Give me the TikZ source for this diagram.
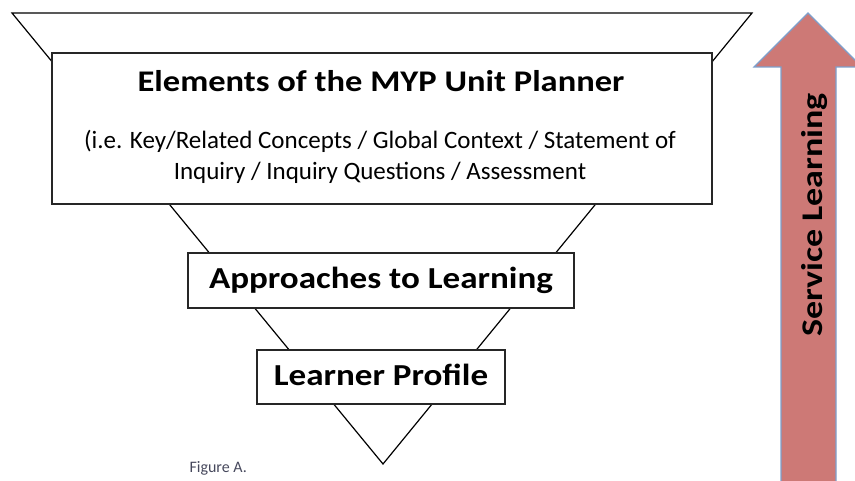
\documentclass[tikz,border=0pt]{standalone}
\usepackage{fontspec}
\setmainfont{Carlito}
\newfontfamily\headfont[FakeStretch=1.15]{Carlito}
\newfontfamily\arrowfont[FakeStretch=1.2]{Carlito}
\definecolor{servicefill}{RGB}{205,121,118}
\definecolor{serviceedge}{RGB}{125,160,205}
\definecolor{captiongray}{RGB}{70,72,92}
\begin{document}
\begin{tikzpicture}[x=1pt,y=-1pt,
    box/.style={draw=black!85,line width=1.2pt,fill=white,inner sep=0pt},
    heading/.style={font=\headfont\bfseries\fontsize{30.5}{36}\selectfont,text height=22pt,text depth=5pt}]
  \useasboundingbox (0,0) rectangle (855,481);
  % funnel
  \draw[line width=1.2pt] (12,13) coordinate (tl) -- (752,13) coordinate (tr)
    -- (383,464) coordinate (apex) -- cycle;
  \node[box,minimum width=660pt,minimum height=151pt] (planner) at (382,128.5) {};
  \node[heading,font=\headfont\bfseries\fontsize{30}{36}\selectfont,anchor=base] (title) at (381,92) {Elements of the MYP Unit Planner};
  \node[font=\fontsize{25}{31}\selectfont,align=center] (detail) at (380,157)
    {(i.e. Key/Related Concepts / Global Context / Statement of\\Inquiry / Inquiry Questions / Assessment};
  \node[box,heading,minimum width=386pt,minimum height=55pt] (atl) at (381,280.5) {Approaches to Learning};
  \node[box,heading,minimum width=248pt,minimum height=54pt] (profile) at (381,377) {Learner Profile};
  \node[font=\fontsize{16}{19}\selectfont,text=captiongray,anchor=base west] (figure) at (186,472) {Figure A.};
  % service arrow
  \draw[fill=servicefill,draw=serviceedge,line width=1.2pt,line join=miter]
    (781,485) -- (781,67) -- (754,67) -- (808,13) coordinate (tip) -- (862,67)
    -- (836,67) -- (836,485);
  \node[font=\arrowfont\bfseries\fontsize{30}{36}\selectfont,rotate=90] (service) at (815,215) {Service Learning};
\end{tikzpicture}
\end{document}
